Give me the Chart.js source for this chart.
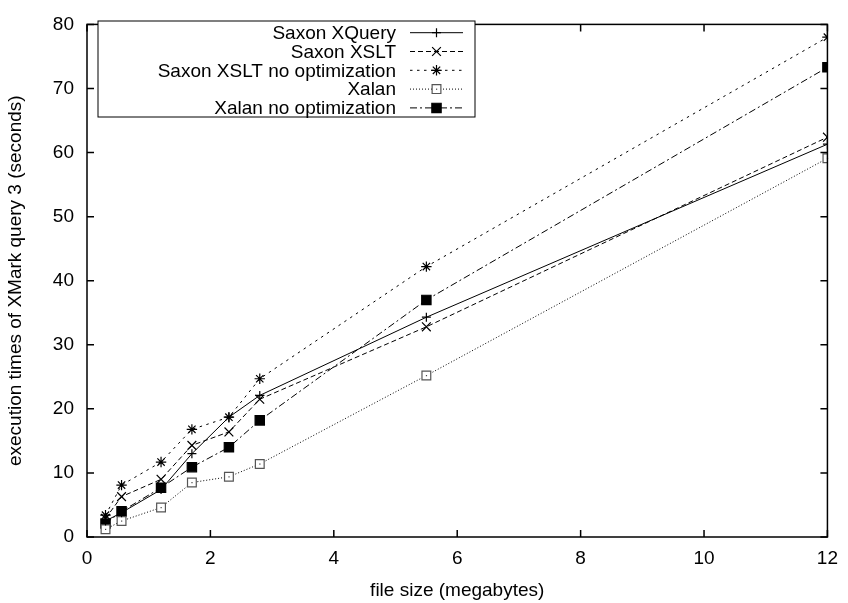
<!DOCTYPE html>
<html>
<head>
<meta charset="utf-8">
<title>XMark query 3 execution times</title>
<script src="https://cdn.jsdelivr.net/npm/chart.js@4/dist/chart.umd.min.js"></script>
<style>
  html, body { margin: 0; padding: 0; background: #fff; }
  #wrap { width: 848px; height: 603px; }
</style>
</head>
<body>
<div id="wrap"><canvas id="chart" width="848" height="603"></canvas></div>
<script>
// ============================================================================
// Data
// ============================================================================

const FILE_SIZES = [0.3, 0.56, 1.2, 1.7, 2.3, 2.8, 5.5, 12];

const SAXON_XQUERY = [2.5, 3.8, 7.4, 13.0, 18.7, 22.1, 34.3, 61.3];
const SAXON_XSLT = [2.9, 6.3, 9.0, 14.3, 16.4, 21.5, 32.8, 62.4];
const SAXON_XSLT_NOOPT = [3.4, 8.1, 11.7, 16.8, 18.7, 24.7, 42.2, 78.0];
const XALAN = [1.2, 2.5, 4.6, 8.5, 9.4, 11.4, 25.2, 59.1];
const XALAN_NOOPT = [2.1, 4.0, 7.7, 10.9, 14.0, 18.2, 37.0, 73.3];

const SERIES_LABELS = [
  'Saxon XQuery', 'Saxon XSLT', 'Saxon XSLT no optimization', 'Xalan', 'Xalan no optimization'
];

const X_TICKS = [0, 2, 4, 6, 8, 10, 12];
const Y_TICKS = [0, 10, 20, 30, 40, 50, 60, 70, 80];

// ============================================================================
// Styling
// ============================================================================

const FONT = "'Liberation Sans', Arial, Helvetica, sans-serif";
const FONT_SIZE = 19;
const TICK_LEN = 7;

const SERIES_STYLES = [
  { dash: [], pointStyle: 'cross', radius: 4.5, color: '#000', fill: '#000' },
  { dash: [5, 3], pointStyle: 'crossRot', radius: 6.2, color: '#000', fill: '#000' },
  { dash: [2.5, 4.5], pointStyle: 'star', radius: 5.2, color: '#000', fill: '#000' },
  { dash: [1, 2], pointStyle: 'rect', radius: 6.2, color: '#555', fill: '#fff' },
  { dash: [7, 3, 2, 3], pointStyle: 'rect', radius: 6.6, color: '#000', fill: '#000' }
];

const LEGEND_BOX = { left: 98, top: 21, right: 475, bottom: 117, firstRow: 32.7, rowH: 18.8,
  textRight: 396, lineFrom: 410, lineTo: 463 };

// ============================================================================
// Helpers
// ============================================================================

function toPoints(values) {
  return values.map((v, i) => ({ x: FILE_SIZES[i], y: v }));
}

function buildDatasets() {
  const all = [SAXON_XQUERY, SAXON_XSLT, SAXON_XSLT_NOOPT, XALAN, XALAN_NOOPT];
  return all.map((values, i) => {
    const s = SERIES_STYLES[i];
    return {
      label: SERIES_LABELS[i],
      data: toPoints(values),
      borderColor: '#000',
      borderWidth: 1,
      borderDash: s.dash,
      pointStyle: s.pointStyle,
      pointRadius: s.radius,
      pointHoverRadius: s.radius,
      pointBorderColor: s.color,
      pointBackgroundColor: s.fill,
      pointBorderWidth: 1.2,
      tension: 0,
      fill: false
    };
  });
}

// Frame, inward mirror ticks, centre dots on hollow squares, and the gnuplot-like key
const gnuplotDecor = {
  id: 'gnuplotDecor',
  afterDatasetsDraw(chart) {
    const { ctx, chartArea: a, scales } = chart;
    ctx.save();

    // centre dots on hollow squares
    const meta = chart.getDatasetMeta(3);
    ctx.fillStyle = '#444';
    meta.data.forEach(pt => ctx.fillRect(pt.x - 0.5, pt.y - 0.5, 1.2, 1.2));

    // frame
    ctx.strokeStyle = '#000';
    ctx.lineWidth = 1.5;
    ctx.setLineDash([]);
    ctx.strokeRect(a.left, a.top, a.right - a.left, a.bottom - a.top);

    // ticks
    ctx.beginPath();
    X_TICKS.forEach(v => {
      const x = scales.x.getPixelForValue(v);
      ctx.moveTo(x, a.bottom); ctx.lineTo(x, a.bottom - TICK_LEN);
      ctx.moveTo(x, a.top); ctx.lineTo(x, a.top + TICK_LEN);
    });
    Y_TICKS.forEach(v => {
      const y = scales.y.getPixelForValue(v);
      ctx.moveTo(a.left, y); ctx.lineTo(a.left + TICK_LEN, y);
      ctx.moveTo(a.right, y); ctx.lineTo(a.right - TICK_LEN, y);
    });
    ctx.stroke();

    // key
    const L = LEGEND_BOX;
    ctx.fillStyle = '#fff';
    ctx.fillRect(L.left, L.top, L.right - L.left, L.bottom - L.top);
    ctx.lineWidth = 1;
    ctx.strokeStyle = '#000';
    ctx.strokeRect(L.left, L.top, L.right - L.left, L.bottom - L.top);

    ctx.font = FONT_SIZE + 'px ' + FONT;
    ctx.textAlign = 'right';
    ctx.textBaseline = 'middle';
    chart.data.datasets.forEach((ds, i) => {
      const y = L.firstRow + i * L.rowH;
      ctx.fillStyle = '#000';
      ctx.fillText(ds.label, L.textRight, y + 1);

      ctx.beginPath();
      ctx.setLineDash(ds.borderDash);
      ctx.lineWidth = 1;
      ctx.strokeStyle = '#000';
      ctx.moveTo(L.lineFrom, y);
      ctx.lineTo(L.lineTo, y);
      ctx.stroke();
      ctx.setLineDash([]);

      const mx = (L.lineFrom + L.lineTo) / 2;
      ctx.strokeStyle = ds.pointBorderColor;
      ctx.fillStyle = ds.pointBackgroundColor;
      ctx.lineWidth = ds.pointBorderWidth;
      if (Chart.helpers && Chart.helpers.drawPoint) {
        Chart.helpers.drawPoint(ctx, {
          pointStyle: ds.pointStyle, radius: ds.pointRadius, rotation: 0, borderWidth: ds.pointBorderWidth
        }, mx, y);
      }
      if (i === 3) {
        ctx.fillStyle = '#444';
        ctx.fillRect(mx - 0.5, y - 0.5, 1.2, 1.2);
      }
    });

    ctx.restore();
  }
};

// ============================================================================
// Chart
// ============================================================================

function renderChart() {
  const ctx = document.getElementById('chart').getContext('2d');

  new Chart(ctx, {
    type: 'line',
    data: { datasets: buildDatasets() },
    options: {
      responsive: false,
      animation: false,
      events: [],
      layout: { padding: { top: 14, right: 16, bottom: 0, left: 0 } },
      plugins: {
        legend: { display: false },
        tooltip: { enabled: false }
      },
      scales: {
        x: {
          type: 'linear',
          min: 0,
          max: 12,
          afterFit: scale => { scale.height = 66; },
          afterBuildTicks: scale => { scale.ticks = X_TICKS.map(v => ({ value: v })); },
          grid: { display: false, drawTicks: false },
          border: { display: false },
          ticks: {
            color: '#000',
            padding: 10,
            maxRotation: 0,
            autoSkip: false,
            font: { family: FONT, size: FONT_SIZE }
          },
          title: {
            display: true,
            text: 'file size (megabytes)',
            color: '#000',
            padding: { top: 0, bottom: 1 },
            font: { family: FONT, size: FONT_SIZE }
          }
        },
        y: {
          type: 'linear',
          min: 0,
          max: 80,
          afterFit: scale => { scale.width = 87; },
          afterBuildTicks: scale => { scale.ticks = Y_TICKS.map(v => ({ value: v })); },
          grid: { display: false, drawTicks: false },
          border: { display: false },
          ticks: {
            color: '#000',
            padding: 13,
            autoSkip: false,
            font: { family: FONT, size: FONT_SIZE }
          },
          title: {
            display: true,
            text: 'execution times of XMark query 3 (seconds)',
            color: '#000',
            padding: { top: 4, bottom: 0 },
            font: { family: FONT, size: FONT_SIZE }
          }
        }
      }
    },
    plugins: [gnuplotDecor]
  });
}

renderChart();
</script>
</body>
</html>
